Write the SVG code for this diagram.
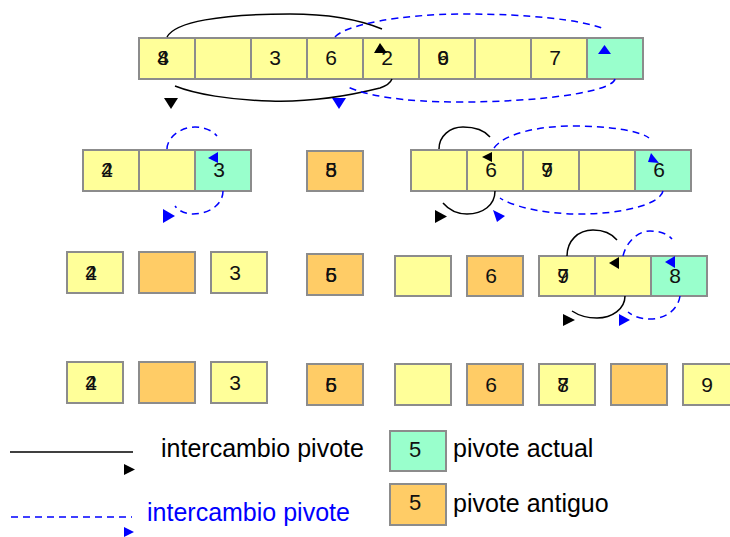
<svg xmlns="http://www.w3.org/2000/svg" width="730" height="537" viewBox="0 0 730 537">
  <style>
    .y { fill: #FFFF99; stroke: #8C8C8C; stroke-width: 2; }
    .g { fill: #99FFCC; stroke: #8C8C8C; stroke-width: 2; }
    .o { fill: #FFCC66; stroke: #8C8C8C; stroke-width: 2; }
    .d { font-family: "Liberation Sans", Arial, sans-serif; font-size: 21px; fill: #111; text-anchor: middle; }
    .lg { font-family: "Liberation Sans", Arial, sans-serif; font-size: 25px; fill: #000; }
    .lb { font-family: "Liberation Sans", Arial, sans-serif; font-size: 25px; fill: #0000FF; }
    .sw { fill: none; stroke: #000; stroke-width: 1.5; }
    .bw { fill: none; stroke: #0000FF; stroke-width: 1.5; stroke-dasharray: 7 5; }
    .ka { fill: #000; }
    .ba { fill: #0000FF; }
  </style>

  <!-- row 1: full array -->
  <g id="r1c1"><rect class="y" x="139" y="38" width="56" height="41"/><text class="d" x="163" y="65">8</text><text class="d" x="163" y="65">4</text></g>
  <g id="r1c2"><rect class="y" x="195" y="38" width="56" height="41"/></g>
  <g id="r1c3"><rect class="y" x="251" y="38" width="56" height="41"/><text class="d" x="275" y="65">3</text></g>
  <g id="r1c4"><rect class="y" x="307" y="38" width="56" height="41"/><text class="d" x="331" y="65">6</text></g>
  <g id="r1c5"><rect class="y" x="363" y="38" width="56" height="41"/><text class="d" x="387" y="65">2</text></g>
  <g id="r1c6"><rect class="y" x="419" y="38" width="56" height="41"/><text class="d" x="443" y="65">6</text><text class="d" x="443" y="65">9</text></g>
  <g id="r1c7"><rect class="y" x="475" y="38" width="56" height="41"/></g>
  <g id="r1c8"><rect class="y" x="531" y="38" width="56" height="41"/><text class="d" x="555" y="65">7</text></g>
  <g id="r1c9"><rect class="g" x="587" y="38" width="56" height="41"/></g>

  <!-- row 2 -->
  <g id="r2c1"><rect class="y" x="83" y="150" width="56" height="41"/><text class="d" x="107" y="177">2</text><text class="d" x="107" y="177">4</text></g>
  <g id="r2c2"><rect class="y" x="139" y="150" width="56" height="41"/></g>
  <g id="r2c3"><rect class="g" x="195" y="150" width="56" height="41"/><text class="d" x="219" y="177">3</text></g>
  <g id="r2p"><rect class="o" x="307" y="151" width="56" height="40"/><text class="d" x="331" y="177">5</text><text class="d" x="331" y="177">8</text></g>
  <g id="r2c5"><rect class="y" x="411" y="150" width="56" height="41"/></g>
  <g id="r2c6"><rect class="y" x="467" y="150" width="56" height="41"/><text class="d" x="491" y="177">6</text></g>
  <g id="r2c7"><rect class="y" x="523" y="150" width="56" height="41"/><text class="d" x="547" y="177">9</text><text class="d" x="547" y="177">7</text></g>
  <g id="r2c8"><rect class="y" x="579" y="150" width="56" height="41"/></g>
  <g id="r2c9"><rect class="g" x="635" y="150" width="56" height="41"/><text class="d" x="659" y="177">6</text></g>

  <!-- row 3 -->
  <g id="r3c1"><rect class="y" x="67" y="252" width="56" height="41"/><text class="d" x="91" y="280">2</text><text class="d" x="91" y="280">4</text></g>
  <g id="r3c2"><rect class="o" x="139" y="252" width="56" height="41"/></g>
  <g id="r3c3"><rect class="y" x="211" y="252" width="56" height="41"/><text class="d" x="235" y="280">3</text></g>
  <g id="r3p"><rect class="o" x="307" y="254" width="56" height="41"/><text class="d" x="331" y="282">5</text><text class="d" x="331" y="282">6</text></g>
  <g id="r3c5"><rect class="y" x="395" y="256" width="56" height="40"/></g>
  <g id="r3c6"><rect class="o" x="467" y="256" width="56" height="40"/><text class="d" x="491" y="283">6</text></g>
  <g id="r3c7"><rect class="y" x="539" y="256" width="56" height="40"/><text class="d" x="563" y="283">9</text><text class="d" x="563" y="283">7</text></g>
  <g id="r3c8"><rect class="y" x="595" y="256" width="56" height="40"/></g>
  <g id="r3c9"><rect class="g" x="651" y="256" width="56" height="40"/><text class="d" x="675" y="283">8</text></g>

  <!-- row 4 -->
  <g id="r4c1"><rect class="y" x="67" y="362" width="56" height="41"/><text class="d" x="91" y="390">2</text><text class="d" x="91" y="390">4</text></g>
  <g id="r4c2"><rect class="o" x="139" y="362" width="56" height="41"/></g>
  <g id="r4c3"><rect class="y" x="211" y="362" width="56" height="41"/><text class="d" x="235" y="390">3</text></g>
  <g id="r4c4"><rect class="o" x="307" y="364" width="56" height="41"/><text class="d" x="331" y="392">5</text><text class="d" x="331" y="392">6</text></g>
  <g id="r4c5"><rect class="y" x="395" y="364" width="56" height="41"/></g>
  <g id="r4c6"><rect class="o" x="467" y="364" width="56" height="41"/><text class="d" x="491" y="392">6</text></g>
  <g id="r4c7"><rect class="y" x="539" y="364" width="56" height="41"/><text class="d" x="563" y="392">8</text><text class="d" x="563" y="392">7</text></g>
  <g id="r4c8"><rect class="o" x="611" y="364" width="56" height="41"/></g>
  <g id="r4c9"><rect class="y" x="683" y="364" width="56" height="41"/><text class="d" x="707" y="392">9</text></g>

  <!-- swap arcs and their heads -->
  <g id="connectors">
    <!-- row 1 -->
    <path class="sw" d="M167,37 C175,22 220,14 290,14 C330,14 360,20 382,29"/>
    <polygon class="ka" points="374,53 387,53 380,43"/>
    <path class="sw" d="M392,79 C390,84 386,86 380,88 C340,98 300,102 270,101 C230,100 195,94 175,86"/>
    <polygon class="ka" points="164,98 178,98 171,109"/>
    <path class="bw" d="M335,37 C345,25 400,14 465,14 C530,14 580,20 602,28"/>
    <polygon class="ba" points="598,54 611,54 604.5,45"/>
    <path class="bw" d="M615,79 C612,92 540,102 460,102 C400,102 365,95 348,87"/>
    <polygon class="ba" points="332,98 346,98 339,109"/>

    <!-- row 2, left part -->
    <path class="bw" d="M167,149 C167,138 180,127 195,127 C205,127 213,131 217,136"/>
    <polygon class="ba" points="208,158 218,152 218,163"/>
    <path class="bw" d="M223,191 C223,204 210,214 193,214 C185,214 179,211 175,206"/>
    <polygon class="ba" points="163,209 163,223 175,216"/>

    <!-- row 2, right part -->
    <path class="sw" d="M439,149 C439,136 450,127 463,127 C475,127 485,131 490,137"/>
    <polygon class="ka" points="482,157 492,152 492,162"/>
    <path class="sw" d="M495,191 C495,205 483,214 467,214 C457,214 449,210 443,203"/>
    <polygon class="ka" points="435,210 435,223 447,216.5"/>
    <path class="bw" d="M494,148 C505,133 540,126 573,126 C610,126 640,131 649,138"/>
    <polygon class="ba" points="651,153 659,163 648,162"/>
    <path class="bw" d="M663,191 C660,205 620,214 580,214 C540,214 510,205 500,198"/>
    <polygon class="ba" points="493,210 505,216 497,222"/>

    <!-- row 3 -->
    <path class="sw" d="M567,256 C567,241 578,230 593,230 C604,230 612,234 617,240"/>
    <polygon class="ka" points="609,263 619,257 619,269"/>
    <path class="sw" d="M625,296 C625,309 612,318 597,318 C587,318 578,315 572,311"/>
    <polygon class="ka" points="563,314 563,326 575,320"/>
    <path class="bw" d="M623,256 C626,243 637,231 650,231 C660,231 668,234 672,239"/>
    <polygon class="ba" points="665,262 675,256 675,268"/>
    <path class="bw" d="M680,296 C678,310 665,319 650,319 C640,319 633,316 628,312"/>
    <polygon class="ba" points="619,314 619,326 630,320"/>
  </g>

  <!-- legend -->
  <g id="legend-swap">
    <line x1="10" y1="452" x2="133" y2="452" stroke="#000" stroke-width="1.5"/>
    <polygon class="ka" points="124,464 124,475 135,469.5"/>
    <text class="lg" x="161" y="457">intercambio pivote</text>
  </g>
  <g id="legend-pivot-swap">
    <line x1="11" y1="517" x2="132" y2="517" class="bw"/>
    <polygon class="ba" points="124,527 124,537 134,532"/>
    <text class="lb" x="147" y="521">intercambio pivote</text>
  </g>
  <g id="legend-current">
    <rect class="g" x="390" y="431" width="56" height="40"/>
    <text class="d" x="415" y="457" style="font-size:22px">5</text>
    <text class="lg" x="453" y="457">pivote actual</text>
  </g>
  <g id="legend-old">
    <rect class="o" x="390" y="484" width="56" height="41"/>
    <text class="d" x="415" y="510" style="font-size:22px">5</text>
    <text class="lg" x="453" y="512">pivote antiguo</text>
  </g>
</svg>
